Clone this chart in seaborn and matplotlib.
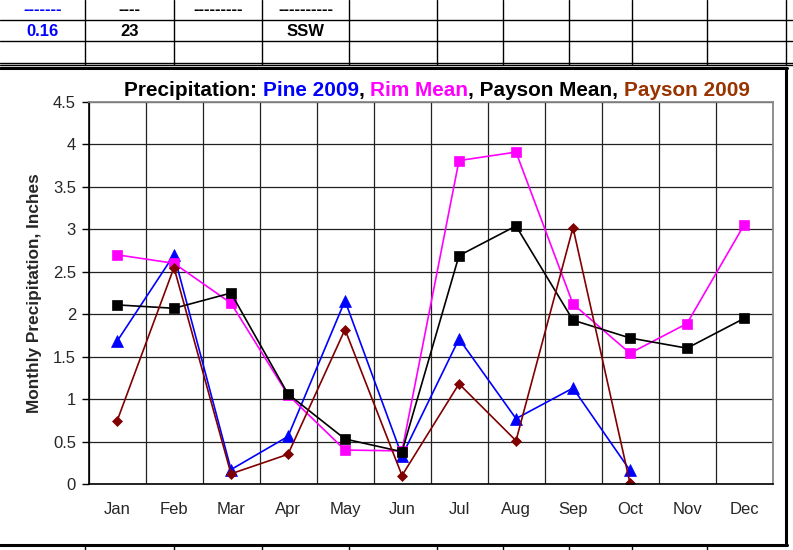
import numpy as np
import pandas as pd
import matplotlib
matplotlib.use('Agg')
import matplotlib.pyplot as plt
import seaborn as sns

# monthly precipitation, inches
months = ['Jan', 'Feb', 'Mar', 'Apr', 'May', 'Jun',
          'Jul', 'Aug', 'Sep', 'Oct', 'Nov', 'Dec']
pine_2009 = [1.68, 2.70, 0.17, 0.56, 2.16, 0.33, 1.71, 0.77, 1.13, 0.16, np.nan, np.nan]
rim_mean = [2.70, 2.60, 2.13, 1.05, 0.40, 0.39, 3.81, 3.91, 2.12, 1.54, 1.89, 3.05]
payson_mean = [2.11, 2.07, 2.25, 1.06, 0.53, 0.38, 2.69, 3.04, 1.93, 1.72, 1.60, 1.95]
payson_2009 = [0.74, 2.55, 0.12, 0.35, 1.82, 0.10, 1.18, 0.51, 3.02, 0.01, np.nan, np.nan]

# spreadsheet cells above the chart
row1 = ['-------', '----', '---------', '----------']
row2 = ['0.16', '23', '', 'SSW']

sns.set_style('white')
plt.rcParams['font.family'] = ['Liberation Sans', 'DejaVu Sans']

W, H = 793, 550
fig = plt.figure(figsize=(W / 100, H / 100), dpi=100)


def fx(x):
    return x / W


def fy(y):
    return 1 - y / H


def hline(y, x0, x1, lw=1.0, c='black'):
    fig.add_artist(plt.Line2D([fx(x0), fx(x1)], [fy(y), fy(y)], transform=fig.transFigure, color=c, lw=lw))


def vline(x, y0, y1, lw=1.0, c='black'):
    fig.add_artist(plt.Line2D([fx(x), fx(x)], [fy(y0), fy(y1)], transform=fig.transFigure, color=c, lw=lw))


# ---- table grid around the chart ----
cols = [85, 174, 262, 349, 437, 503, 569, 632, 707]
for y in [20, 41, 62.5, 65]:
    hline(y, 0, W, lw=1.0)
hline(68, 0, 787, lw=2.2)
hline(544.5, 0, 787, lw=2.2)
for x in cols:
    vline(x, 0, 65)
    vline(x, 545, H)
vline(786, 0, 65)
vline(786, 68, 545, lw=2.2)

centers = [42.5, 129.5, 218, 305.5]
for i, (a, b) in enumerate(zip(row1, row2)):
    col = 'blue' if i == 0 else 'black'
    fig.text(fx(centers[i]), fy(14), a, ha='center', va='baseline', fontsize=12,
             fontweight='bold', color=col)
    if b:
        fig.text(fx(centers[i]), fy(31), b, ha='center', va='center', fontsize=12,
                 fontweight='bold', color=col)

# ---- chart ----
ax = fig.add_axes([fx(88.5), fy(484), (772.5 - 88.5) / W, (484 - 102) / H])

x = np.arange(len(months))
series = [
    ('Pine 2009', pine_2009, '#0000FF', '^', 8),
    ('Rim Mean', rim_mean, '#FF00FF', 's', 7),
    ('Payson Mean', payson_mean, '#000000', 's', 7),
    ('Payson 2009', payson_2009, '#800000', 'D', 4.6),
]
for name, vals, col, mk, ms in series:
    df = pd.DataFrame({'month': x, 'value': vals}).dropna()
    sns.lineplot(data=df, x='month', y='value', ax=ax, color=col, lw=1.2,
                 marker=mk, markersize=ms, markeredgecolor=col, markeredgewidth=0.5,
                 sort=False, legend=False)

ax.set_xlim(-0.5, 11.5)
ax.set_ylim(0, 4.5)
ax.set_yticks(np.arange(0, 4.51, 0.5))
ax.set_yticklabels(['%g' % v for v in np.arange(0, 4.51, 0.5)])
ax.set_xticks(x)
ax.set_xticklabels(months)
ax.set_xticks(np.arange(-0.5, 11.6, 1), minor=True)
ax.tick_params(axis='x', which='major', length=0, pad=13, labelsize=12)
ax.tick_params(axis='x', which='minor', length=5, width=1, color='black', direction='out')
ax.tick_params(axis='y', length=5, width=1, color='black', direction='out', pad=4, labelsize=12,
               left=True)
ax.set_xlabel('')
ax.set_ylabel('Monthly Precipitation, Inches', fontweight='bold', fontsize=12.4)
ax.yaxis.set_label_coords(-0.068, 0.5)

ax.grid(False)
ax.yaxis.grid(True, which='major', color='#222222', lw=0.9)
ax.xaxis.grid(True, which='minor', color='#222222', lw=0.9)
ax.set_axisbelow(True)
for s in ['top', 'right']:
    ax.spines[s].set_color('#888888')
    ax.spines[s].set_linewidth(1.3)
for s in ['left', 'bottom']:
    ax.spines[s].set_color('black')
    ax.spines[s].set_linewidth(1.2)

# ---- multi-coloured title ----
pieces = [('Precipitation: ', 'black'), ('Pine 2009', '#0000FF'), (', ', 'black'),
          ('Rim Mean', '#FF00FF'), (', Payson Mean, ', 'black'), ('Payson 2009', '#993300')]
renderer = fig.canvas.get_renderer()


def textw(s, fs):
    t = fig.text(0, 0, s + 'I', fontsize=fs, fontweight='bold')
    t2 = fig.text(0, 0, 'I', fontsize=fs, fontweight='bold')
    w = t.get_window_extent(renderer).width - t2.get_window_extent(renderer).width
    t.remove()
    t2.remove()
    return w


full = ''.join(p for p, _ in pieces)
fs = 13 * 624 / textw(full, 13)
xpos = 124
for s, col in pieces:
    fig.text(fx(xpos), fy(96), s, fontsize=fs, fontweight='bold', color=col,
             ha='left', va='baseline')
    xpos += textw(s, fs)

fig.savefig('out.png', dpi=100)
